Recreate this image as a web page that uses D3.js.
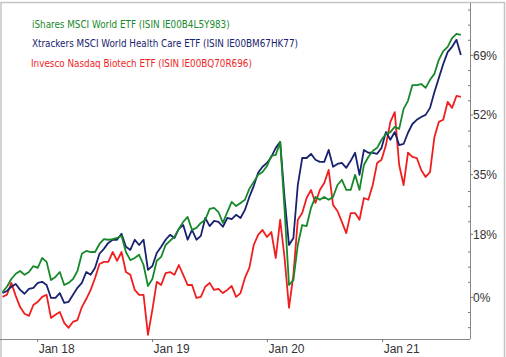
<!DOCTYPE html>
<html><head><meta charset="utf-8">
<script src="https://cdn.jsdelivr.net/npm/d3@7/dist/d3.min.js"></script>
<style>
html,body{margin:0;padding:0;background:#fff;}
svg{display:block;}
</style></head>
<body>
<svg id="c" width="506" height="357"></svg>
<script>
// ---- data (biweekly, % change since start) ----
const startDate = "2017-09-13";
const stepDays = 14;
const seriesNames = [
  "iShares MSCI World ETF (ISIN IE00B4L5Y983)",
  "Xtrackers MSCI World Health Care ETF (ISIN IE00BM67HK77)",
  "Invesco Nasdaq Biotech ETF (ISIN IE00BQ70R696)"
];
const seriesColors = ["#17892b", "#18226e", "#f01e1e"];
const msciWorld = [1.4,2.9,5.1,6.6,7.4,6.3,7.1,8.8,8.3,11.1,10.0,4.8,5.7,7.1,3.4,4.0,5.1,7.4,12.3,13.1,
  12.8,12.8,15.1,16.5,16.3,16.5,16.8,17.4,12.8,10.5,11.1,12.0,9.1,3.1,5.1,10.3,11.4,14.8,16.0,17.1,
  19.4,21.4,22.8,19.1,19.7,21.1,22.0,25.1,25.4,24.2,21.1,24.2,27.1,25.9,26.8,27.7,30.8,32.8,34.8,35.6,
  37.3,40.2,40.5,44.2,24.8,3.4,4.8,14.8,20.5,20.2,25.4,28.5,27.7,28.5,27.7,28.5,31.9,33.4,30.5,30.5,
  34.8,30.5,37.6,39.9,41.6,42.5,44.8,46.5,47.0,48.5,47.9,53.6,55.9,60.4,60.4,60.7,59.6,61.9,63.6,67.6,
  70.1,71.3,73.8,75.0,74.7];
const healthCare = [1.1,1.7,2.9,3.7,2.0,0.9,2.3,2.6,4.0,4.3,3.4,-0.3,-0.3,1.1,-1.7,-1.4,0.6,2.6,4.0,7.1,
  6.3,8.3,12.3,13.7,15.4,16.3,16.3,18.0,14.3,13.4,16.3,14.8,16.3,7.7,8.8,12.5,14.3,16.3,17.7,16.8,
  19.4,20.5,16.3,19.1,16.3,17.4,22.5,20.2,21.7,21.4,20.0,22.5,22.2,23.4,22.5,24.8,28.5,31.6,35.4,37.1,
  38.2,39.9,42.5,44.2,28.2,14.8,16.8,31.9,39.6,39.6,40.8,39.1,38.5,38.5,41.9,37.1,37.9,38.2,36.8,38.8,
  41.1,34.8,41.9,41.1,41.1,40.8,42.5,47.0,44.8,47.0,43.3,43.6,46.8,49.3,50.5,51.3,51.9,53.9,58.4,62.4,
  66.4,69.8,71.3,73.3,69.0];
const biotech = [0.0,0.6,4.0,0.3,-2.9,-4.8,-5.4,-2.3,-1.4,0.0,0.6,-6.0,-5.1,-4.3,-7.4,-8.8,-7.1,-6.6,-2.9,-0.6,
  2.0,5.4,9.4,10.0,10.0,12.8,10.3,12.8,7.1,6.3,2.0,0.6,0.6,-10.8,-3.7,4.3,3.4,6.8,7.1,6.3,
  9.1,6.3,3.4,3.4,-0.3,0.0,2.9,4.0,2.0,2.3,1.1,2.0,3.1,0.0,1.1,5.4,8.3,14.8,17.7,19.1,
  17.1,18.5,11.1,22.0,11.1,-3.1,6.3,22.0,23.9,28.2,30.5,26.8,30.5,32.5,36.2,26.2,24.5,21.4,18.2,23.9,
  23.9,22.0,28.2,27.7,31.9,38.2,39.1,43.3,49.9,52.7,37.6,31.9,41.1,39.9,39.6,36.2,34.2,35.6,45.6,49.9,
  50.5,55.6,53.9,57.3,57.0];
const yTickValues = [0, 18, 35, 52, 69];
const xTickLabels = ["Jan 18", "Jan 19", "Jan 20", "Jan 21"];
const xTickDates = ["2018-01-01", "2019-01-01", "2020-01-01", "2021-01-01"];

// ---- build ----
const parse = d3.utcParse("%Y-%m-%d");
const t0 = parse(startDate);
const dates = msciWorld.map((_, i) => d3.utcDay.offset(t0, i * stepDays));
const allSeries = [msciWorld, healthCare, biotech];

const svg = d3.select("#c");
const plotLeft = 0, plotRight = 470, plotTop = 3, plotBottom = 339;

const x = d3.scaleUtc()
  .domain([parse("2017-09-05"), parse("2021-10-07")])
  .range([plotLeft, plotRight]);
const y = d3.scaleLinear().domain([-12, 83.8]).range([plotBottom, plotTop]);

// frame
svg.append("rect").attr("x", 1).attr("y", 2.5).attr("width", 503.5).attr("height", 400)
  .attr("fill", "none").attr("stroke", "#c4c4c4").attr("stroke-width", 1.5);

// lines
const line = d3.line().x((d, i) => x(dates[i])).y(d => y(d));
[2, 1, 0].forEach(k => {
  svg.append("path").datum(allSeries[k]).attr("d", line)
    .attr("fill", "none").attr("stroke", seriesColors[k])
    .attr("stroke-width", 1.8).attr("stroke-linejoin", "round");
});

// y axis (right)
const minorStep = 69 / 16;
function notMajor(v){ return Math.abs(Math.round(v / minorStep) % 4) !== 0; }
const minors = d3.range(-2, 20).map(k => k * minorStep)
  .filter(v => v > -12 && v < 83.8 && notMajor(v));
const yAxisMinor = d3.axisRight(y).tickValues(minors).tickSize(-2).tickFormat("").tickSizeOuter(0);
const gMinor = svg.append("g").attr("transform", `translate(${plotRight},0)`).call(yAxisMinor);
gMinor.select(".domain").remove();
gMinor.selectAll("line").attr("stroke", "#777");

const yAxis = d3.axisRight(y).tickValues(yTickValues).tickFormat(d => d + "%").tickSize(3).tickSizeOuter(0);
const gy = svg.append("g").attr("transform", `translate(${plotRight},0)`).call(yAxis);
gy.select(".domain").attr("stroke", "#888").attr("d", `M0.5,${plotTop}V${plotBottom}`);
gy.selectAll("line").attr("stroke", "#777");
gy.selectAll("text").attr("x", 3).attr("dy", "0.36em")
  .attr("font-family", "'Liberation Sans', Arial, sans-serif").attr("font-size", 12).attr("fill", "#333");

// x axis
const xAxis = d3.axisBottom(x).tickValues(xTickDates.map(parse))
  .tickFormat((d, i) => xTickLabels[i]).tickSize(3).tickSizeOuter(0);
const gx = svg.append("g").attr("transform", `translate(0,${plotBottom})`).call(xAxis);
gx.select(".domain").attr("stroke", "#888").attr("d", `M${plotLeft},0.5H${plotRight}`);
gx.selectAll("line").attr("stroke", "#777");
gx.selectAll("text").attr("x", 1).attr("y", 13.5).attr("dy", 0).attr("text-anchor", "start")
  .attr("font-family", "'Liberation Sans', Arial, sans-serif").attr("font-size", 12).attr("fill", "#333");

// legend
const legendY = [27.5, 47, 66.5];
const legendX = [32, 32, 31];
const lg = svg.append("g");
seriesNames.forEach((name, k) => {
  lg.append("text").attr("x", legendX[k]).attr("y", legendY[k])
    .attr("font-family", "'DejaVu Sans Condensed', 'DejaVu Sans', sans-serif")
    .attr("font-stretch", "condensed").attr("font-size", 10)
    .attr("fill", seriesColors[k]).text(name);
});
const w0 = lg.select("text").node().getComputedTextLength();
lg.selectAll("text").attr("font-size", 10 * 198 / w0);
</script>
</body></html>
